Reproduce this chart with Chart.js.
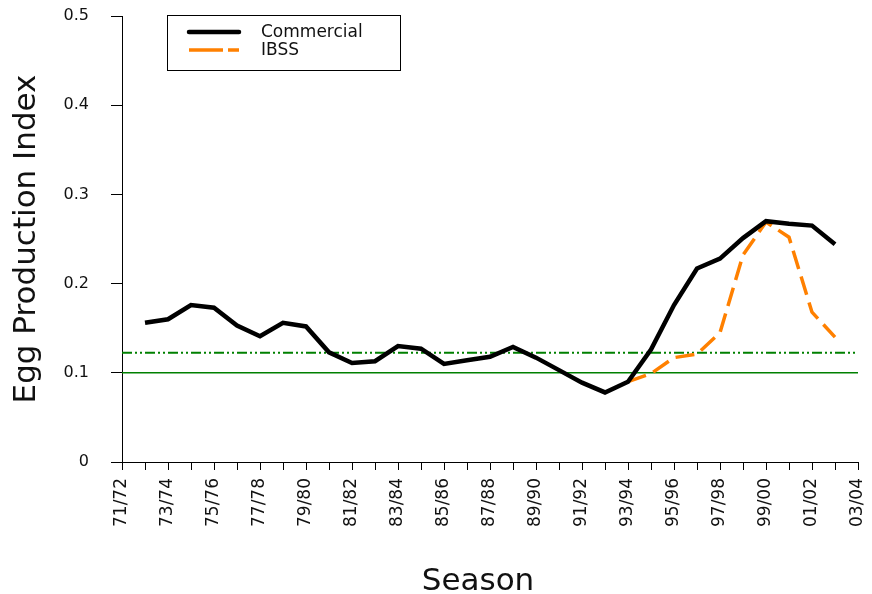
<!DOCTYPE html>
<html lang="en">
<head>
    <meta charset="UTF-8">
    <title>Egg Production Index by Season</title>
    <script src="https://cdn.jsdelivr.net/npm/chart.js"></script>
    <style>
        body { margin: 0; background: #fff; }
        .wrap { width: 872px; height: 594px; }
    </style>
</head>
<body>
    <div class="wrap"><canvas id="chart" width="872" height="594"></canvas></div>
    <script>
        const seasons = ['71/72', '72/73', '73/74', '74/75', '75/76', '76/77', '77/78', '78/79', '79/80', '80/81',
            '81/82', '82/83', '83/84', '84/85', '85/86', '86/87', '87/88', '88/89', '89/90', '90/91',
            '91/92', '92/93', '93/94', '94/95', '95/96', '96/97', '97/98', '98/99', '99/00', '00/01',
            '01/02', '02/03', '03/04'];
        const commercial = [null, 0.156, 0.160, 0.176, 0.173, 0.153, 0.141, 0.156, 0.152, 0.123,
            0.111, 0.113, 0.130, 0.127, 0.110, 0.114, 0.118, 0.129, 0.117, 0.103,
            0.089, 0.078, 0.090, 0.126, 0.176, 0.217, 0.228, 0.251, 0.270, 0.267,
            0.265, 0.244, null];
        const ibss = [null, null, null, null, null, null, null, null, null, null,
            null, null, null, null, null, null, null, null, null, null,
            null, null, 0.090, 0.099, 0.117, 0.121, 0.145, 0.232, 0.269, 0.252,
            0.168, 0.140, null];
        const yTicks = [0, 0.1, 0.2, 0.3, 0.4, 0.5];
        // reference levels drawn across the whole axis
        const solidLevel = 0.1;
        const dashLevel = 0.1225;

        const FONT = "'DejaVu Sans', sans-serif";

        const refLines = {
            id: 'refLines',
            beforeDatasetsDraw(chart) {
                const ctx = chart.ctx, a = chart.chartArea, y = chart.scales.y;
                ctx.save();
                ctx.strokeStyle = '#008000';
                ctx.lineWidth = 1.5;
                ctx.beginPath();
                ctx.moveTo(a.left, y.getPixelForValue(solidLevel));
                ctx.lineTo(a.right, y.getPixelForValue(solidLevel));
                ctx.stroke();
                ctx.lineWidth = 2;
                ctx.setLineDash([10, 3, 2, 3, 2, 3]);
                ctx.beginPath();
                ctx.moveTo(a.left, y.getPixelForValue(dashLevel));
                ctx.lineTo(a.right, y.getPixelForValue(dashLevel));
                ctx.stroke();
                ctx.restore();
            }
        };

        // legend box + x title (title sits left of the plot centre in the original)
        const extras = {
            id: 'extras',
            afterDraw(chart) {
                const ctx = chart.ctx;
                const x = 167, y = 15, w = 233, h = 55;
                ctx.save();
                ctx.fillStyle = '#fff';
                ctx.fillRect(x, y, w, h);
                ctx.strokeStyle = '#000';
                ctx.lineWidth = 1;
                ctx.strokeRect(x + 0.5, y + 0.5, w, h);
                const rows = [
                    { ds: chart.data.datasets[0], dash: [], yy: 32 },
                    { ds: chart.data.datasets[1], dash: [34, 5], yy: 50 }
                ];
                rows.forEach(r => {
                    ctx.strokeStyle = r.ds.borderColor;
                    ctx.lineWidth = r.ds.borderWidth;
                    ctx.lineCap = r.dash.length ? 'butt' : 'round';
                    ctx.setLineDash(r.dash);
                    ctx.beginPath();
                    ctx.moveTo(189, r.yy);
                    ctx.lineTo(239, r.yy);
                    ctx.stroke();
                    ctx.setLineDash([]);
                    ctx.fillStyle = '#111';
                    ctx.font = '17px ' + FONT;
                    ctx.textBaseline = 'middle';
                    ctx.fillText(r.ds.label, 261, r.yy + 1);
                });

                ctx.font = '31px ' + FONT;
                ctx.textAlign = 'center';
                ctx.textBaseline = 'alphabetic';
                ctx.fillText('Season', 478, 590);
                ctx.restore();
            }
        };

        new Chart(document.getElementById('chart'), {
            type: 'line',
            data: {
                labels: seasons,
                datasets: [
                    {
                        label: 'Commercial',
                        data: commercial,
                        borderColor: '#000',
                        borderWidth: 4.5,
                        pointRadius: 0,
                        tension: 0,
                        spanGaps: false
                    },
                    {
                        label: 'IBSS',
                        data: ibss,
                        borderColor: '#ff8000',
                        borderWidth: 3.5,
                        borderDash: [19, 8],
                        pointRadius: 0,
                        tension: 0
                    }
                ]
            },
            options: {
                responsive: false,
                animation: false,
                layout: { padding: { left: 0, right: 14, top: 16, bottom: 0 } },
                plugins: { legend: { display: false }, tooltip: { enabled: false } },
                scales: {
                    x: {
                        offset: false,
                        afterFit: s => {
                            s.height = 132;
                            s.paddingLeft = 0;
                            s.paddingRight = 0;
                        },
                        grid: { drawOnChartArea: false, drawTicks: true, tickLength: 8, color: '#000' },
                        border: { display: true, color: '#000', width: 1 },
                        ticks: {
                            autoSkip: false,
                            maxRotation: 90,
                            minRotation: 90,
                            padding: 8,
                            color: '#111',
                            font: { family: FONT, size: 17 },
                            callback: (v, i) => i % 2 === 0 ? seasons[i] : ''
                        },
                        title: { display: false }
                    },
                    y: {
                        min: 0,
                        max: 0.5,
                        afterFit: s => {
                            s.width = 122;
                            s.paddingTop = 0;
                            s.paddingBottom = 0;
                        },
                        afterBuildTicks: s => { s.ticks = yTicks.map(v => ({ value: v })); },
                        grid: { drawOnChartArea: false, drawTicks: true, tickLength: 11, color: '#000' },
                        border: { display: true, color: '#000', width: 1 },
                        ticks: {
                            padding: 22,
                            color: '#111',
                            font: { family: FONT, size: 16 },
                            callback: v => String(v)
                        },
                        title: {
                            display: true,
                            text: 'Egg Production Index',
                            color: '#111',
                            font: { family: FONT, size: 31, lineHeight: 1 },
                            padding: { top: 11, bottom: 0 }
                        }
                    }
                }
            },
            plugins: [refLines, extras]
        });
    </script>
</body>
</html>
